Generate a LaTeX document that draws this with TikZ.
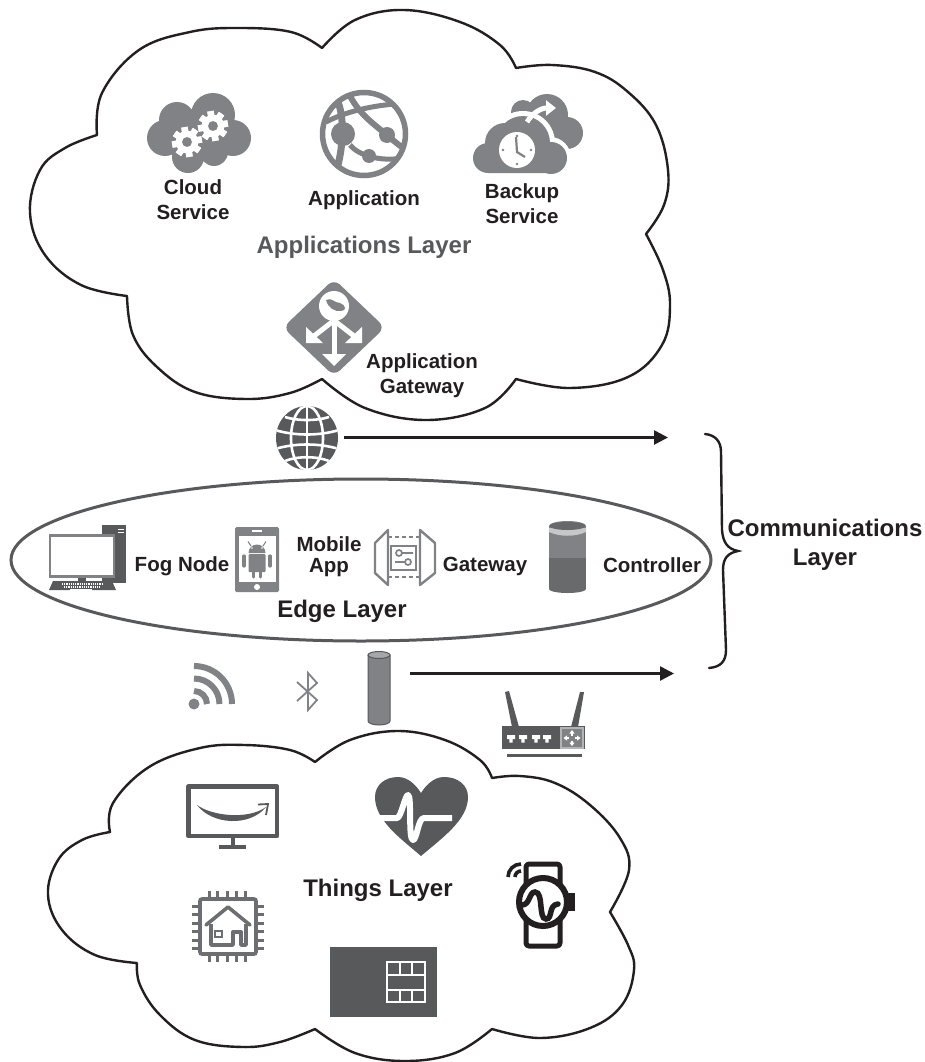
\documentclass[tikz,border=0pt]{standalone}
\usepackage{fontspec}
\setmainfont{Liberation Sans}
\usetikzlibrary{arrows.meta}
\definecolor{midg}{HTML}{808285}
\definecolor{darkg}{HTML}{58595B}
\definecolor{chipg}{HTML}{6D6E71}
\definecolor{ink}{HTML}{231F20}
\tikzset{
 cloudline/.style={draw=ink,line width=2.4pt,line join=round,fill=white},
 lab/.style={font=\fontsize{20.5}{24}\selectfont\bfseries,text=ink,align=center,inner sep=0pt},
 biglab/.style={font=\fontsize{24}{30}\selectfont\bfseries,text=ink,align=center,inner sep=0pt},
 flow/.style={draw=ink,line width=2.6pt,-{Triangle[length=14pt,width=14pt]}},
 wl/.style={draw=white,line width=2.6pt},
 smoothp/.style={smooth,tension=.65},
 rarrow/.style={white,line width=1.6pt,-{Triangle[length=3.5pt,width=5pt]}},
}
\newcommand{\gearic}[3]{%
 \foreach \a in {0,45,...,315}{\fill[white,rotate around={\a+10:(#1,#2)}] (#1-3.2,#2-#3) rectangle (#1+3.2,#2+#3);}
 \fill[white] (#1,#2) circle[radius=#3*0.76pt];
 \fill[midg] (#1,#2) circle[radius=#3*0.33pt];}
\begin{document}
\begin{tikzpicture}[x=1pt,y=-1pt]
\useasboundingbox (0,0) rectangle (925,1062);
\fill[white] (0,0) rectangle (925,1062);

% ---------- top cloud
\path[cloudline] (322,48) -- plot[smoothp] coordinates {(322,48) (355,20) (404,10) (460,22) (500,45) (516,68)}
 -- plot[smoothp] coordinates {(516,68) (552,65) (595,72) (628,92) (656,125) (668,170) (664,205) (646,234)}
 -- plot[smoothp] coordinates {(646,234) (663,270) (670,305) (662,345) (628,377) (570,388) (516,379)}
 -- plot[smoothp] coordinates {(516,379) (485,408) (426,420) (365,408) (322,379)}
 -- plot[smoothp] coordinates {(322,379) (290,393) (247,399) (195,392) (157,367) (133,335) (127,296)}
 -- plot[smoothp] coordinates {(127,296) (81,285) (45,255) (30,213) (40,170) (65,148) (97,135)}
 -- plot[smoothp] coordinates {(97,135) (102,93) (139,50) (190,32) (238,28) (291,32) (322,48)} -- cycle;

% Cloud service icon
\fill[midg] (177,120) circle[radius=18pt] (213,115) circle[radius=22pt] (165,138) circle[radius=18pt]
  (233,138) circle[radius=18pt] (188,157) circle[radius=16pt] (214,152) circle[radius=14pt] (200,135) circle[radius=24pt];
\gearic{187}{142}{15}
\gearic{213}{126}{15}
\node[lab] (cloudsvc) at (193,200) {Cloud\\[1pt]Service};

% Application icon
\draw[midg,line width=5.5pt] (364,134) circle[radius=41.5pt];
\begin{scope}
 \clip (364,134) circle[radius=42pt];
 \draw[midg,line width=6pt] (350,96) .. controls (360,115) and (375,125) .. (387,135) .. controls (395,142) and (400,146) .. (406,150);
 \draw[midg,line width=5pt] (326,122) .. controls (345,112) and (370,106) .. (395,104);
 \draw[midg,line width=7pt] (338,102) .. controls (345,120) and (343,150) .. (336,172);
 \draw[midg,line width=5pt] (350,145) .. controls (358,155) and (380,162) .. (402,158);
\end{scope}
\fill[midg] (343,134) circle[radius=12pt] (387,135) circle[radius=8pt] (369,156) circle[radius=7pt];
\node[lab] (appl) at (364,200) {Application};

% Backup icon
\fill[midg] (523,112) circle[radius=12pt] (547,115) circle[radius=21pt] (567,133) circle[radius=16pt] (555,125) rectangle (575,140);
\fill[white] (502,143) circle[radius=24pt] (523,143) circle[radius=32pt] (488,158) circle[radius=19pt] (550,158) circle[radius=21pt];
\fill[midg] (505,143) circle[radius=20pt] (523,143) circle[radius=27pt] (488,158) circle[radius=15pt] (551,158) circle[radius=16pt] (488,150) rectangle (551,173);
\draw[white,line width=5pt,-{Triangle[length=10pt,width=15pt]}] (527,122) .. controls (533,112) and (542,108) .. (556,108);
\fill[white] (517,150) circle[radius=18pt];
\draw[midg,line width=2.2pt] (516,137) -- (517,152) -- (525,157);
\fill[midg] (517,136) circle[radius=1.3pt] (517,164) circle[radius=1.3pt] (503,150) circle[radius=1.3pt] (531,150) circle[radius=1.3pt];
\node[lab] (backup) at (522,203.5) {Backup\\[1pt]Service};

\node[biglab,text=darkg] (applayer) at (364,247) {Applications Layer};

% Application gateway icon
\fill[midg,rounded corners=8pt] (334,279) -- (385,327.5) -- (334,376) -- (283,327.5) -- cycle;
\fill[white] (334,306) circle[radius=15pt];
\fill[midg] (326,300) .. controls (332,297) and (334,303) .. (340,303) .. controls (346,305) and (347,311) .. (341,311) .. controls (335,312) and (328,308) .. (326,300) -- cycle;
\draw[white,line width=5pt] (334,318) -- (334,356);
\draw[white,line width=5pt] (332,322) -- (314,336);
\draw[white,line width=5pt] (336,322) -- (354,336);
\fill[white] (322,354) -- (346,354) -- (334,366) -- cycle;
\fill[white] (306,327) -- (306,343) -- (323,343) -- cycle;
\fill[white] (362,327) -- (362,343) -- (345,343) -- cycle;
\node[lab] (appgw) at (422,375.5) {Application\\[1pt]Gateway};

% ---------- globe
\fill[darkg] (307,438) ellipse[x radius=31pt,y radius=32pt];
\begin{scope}
 \clip (307,438) ellipse[x radius=31pt,y radius=32pt];
 \draw[wl] (307,438) ellipse[x radius=16pt,y radius=32pt];
 \draw[wl] (307,406) -- (307,470);
 \draw[wl] (285,417) .. controls (297,421) and (317,421) .. (329,417);
 \draw[wl] (275,430) .. controls (295,436) and (319,436) .. (339,430);
 \draw[wl] (275,449) .. controls (295,443) and (319,443) .. (339,449);
 \draw[wl] (285,461) .. controls (297,456) and (317,456) .. (329,461);
\end{scope}
\coordinate (globeR) at (344,437.5);
\coordinate (upEnd) at (668,437.5);
\draw[flow] (globeR) -- (upEnd);

% ---------- brace
\draw[draw=ink,line width=2.4pt,line cap=round] (705,434) .. controls (715,435) and (721,441) .. (721,452) -- (722,530) .. controls (723,543) and (728,549) .. (738,551) .. controls (728,553) and (723,558) .. (723,570) -- (726,650) .. controls (726,662) and (720,667) .. (709,668);
\node[biglab] (comm) at (825,528) {Communications};
\node[biglab] (comm2) at (825,560) {Layer};

% ---------- edge ellipse
\draw[draw=darkg,line width=3pt] (361,560) ellipse[x radius=350pt,y radius=81pt];

% fog node icon
\fill[darkg] (102,525) rectangle (125.5,583);
\draw[white,line width=1pt] (118,529) -- (124,529) (118,532) -- (124,532);
\fill[white] (49,534) rectangle (115,578);
\draw[midg,line width=2.6pt] (50,535.5) rectangle (114,576.5);
\fill[darkg] (78,578) rectangle (86,581);
\fill[darkg] (53,581) -- (112,581) -- (116,590) -- (49,590) -- cycle;
\draw[white,line width=1.3pt,dash pattern=on 1.2pt off 1pt] (62,584) -- (103,584) (64,587) -- (100,587);
\fill[white] (70,589) rectangle (92,590.5);
\node[lab] (fog) at (182,566) {Fog Node};

% mobile icon
\fill[midg,rounded corners=1.5pt] (235,527) rectangle (279,592);
\fill[white] (238.5,536) rectangle (275.5,582);
\fill[white] (252,530) rectangle (262,532);
\fill[white] (257,587) circle[radius=3pt];
\fill[midg] (248.5,553) arc[start angle=180,end angle=0,radius=8.5pt] -- cycle;
\draw[midg,line width=1pt] (251,546) -- (248,541.5) (263,546) -- (266,541.5);
\fill[midg,rounded corners=1pt] (248.5,554) rectangle (265.5,572);
\draw[midg,line width=3.2pt,line cap=round] (244,556) -- (244,566) (270,556) -- (270,566) (253.5,572) -- (253.5,577) (260.5,572) -- (260.5,577);
\fill[white] (252,548) circle[radius=.8pt] (262,548) circle[radius=.8pt];
\node[lab] (mobile) at (329,557) {Mobile\\[-3pt]App};

% gateway icon
\draw[midg,line width=2.4pt,line join=round] (388,530) -- (375,543) -- (375,573) -- (388,585) -- cycle;
\draw[midg,line width=2.4pt,line join=round] (420,530) -- (435,543) -- (435,573) -- (420,585) -- cycle;
\draw[midg,line width=2.4pt,dash pattern=on 4pt off 3pt] (388,537) -- (420,537) (388,577) -- (420,577);
\draw[midg,line width=2.6pt] (391,546) rectangle (416,570);
\draw[midg,line width=1.7pt] (399,553) circle[radius=3pt] (408,562) circle[radius=3pt] (402,553) -- (413,553) (405,562) -- (395,562);
\node[lab] (gwlab) at (485,566) {Gateway};

% controller icon
\fill[midg] (549,526) rectangle (586,558);
\fill[darkg!90!white] (549,558) rectangle (586,589);
\fill[darkg!90!white] (567.5,589) ellipse[x radius=18.5pt,y radius=4pt];
\fill[midg] (567.5,526) ellipse[x radius=18.5pt,y radius=5pt];
\fill[midg!45!white] (549,528) -- (586,528) -- (586,532) .. controls (575,537) and (560,537) .. (549,532) -- cycle;
\fill[midg!80!black] (567.5,526) ellipse[x radius=18pt,y radius=4pt];
\node[lab] (ctrl) at (652,565) {Controller};

\node[biglab] (edge) at (342,611) {Edge Layer};

% ---------- wifi, bluetooth, cylinder
\fill[midg] (194,704) circle[radius=5.5pt];
\draw[midg,line width=6pt] (207,704) arc[start angle=0,end angle=90,radius=13pt];
\draw[midg,line width=6pt] (219.5,704) arc[start angle=0,end angle=90,radius=25.5pt];
\draw[midg,line width=6pt] (232,704) arc[start angle=0,end angle=90,radius=38pt];
\draw[midg,line width=1.8pt,line join=miter] (297,682) -- (317,700) -- (308,710) -- (308,673) -- (317,683) -- (297,701);

\draw[darkg,fill=midg,line width=1pt] (368,655) -- (368,721) arc[start angle=180,end angle=360,x radius=11pt,y radius=4pt] -- (390,655) -- cycle;
\draw[darkg,fill=midg!70!white,line width=1pt] (379,655) ellipse[x radius=11pt,y radius=3.5pt];
\coordinate (cylR) at (410,673.5);
\coordinate (lowEnd) at (674,673.5);
\draw[flow] (cylR) -- (lowEnd);

% router
\fill[darkg] (505,692) -- (509,691) -- (519,727) -- (512,727) -- cycle;
\fill[darkg] (580,692) -- (584,692) -- (578,727) -- (571,727) -- cycle;
\fill[darkg] (502,726) rectangle (585,749);
\draw[darkg,line width=2.5pt] (507,755.5) -- (582,755.5);
\foreach \x in {511,523,536,547}{\fill[white] (\x-4,735) rectangle (\x+4,739) (\x-1.7,739) rectangle (\x+1.7,742.5);}
\draw[midg!60!white,fill=midg,line width=1.2pt] (561,728) rectangle (583,748);
\draw[rarrow] (572,735.5) -- (572,730);
\draw[rarrow] (572,740.5) -- (572,746);
\draw[rarrow] (569,738) -- (563.5,738);
\draw[rarrow] (575,738) -- (580.5,738);

% ---------- bottom cloud
\path[cloudline] (315,762) -- plot[smoothp] coordinates {(315,762) (350,740) (398,731) (445,740) (480,760) (492,778)}
 -- plot[smoothp] coordinates {(492,778) (520,776) (555,783) (590,805) (620,838) (629,870) (610,912)}
 -- plot[smoothp] coordinates {(610,912) (628,945) (634,970) (622,1005) (590,1028) (540,1038) (492,1029)}
 -- plot[smoothp] coordinates {(492,1029) (455,1053) (405,1061) (355,1053) (315,1029)}
 -- plot[smoothp] coordinates {(315,1029) (280,1042) (243,1047) (195,1040) (160,1015) (140,985) (137,963)}
 -- plot[smoothp] coordinates {(137,963) (95,955) (62,930) (48,895) (58,860) (82,840) (110,832)}
 -- plot[smoothp] coordinates {(110,832) (113,803) (149,767) (200,748) (245,745) (290,750) (315,762)} -- cycle;

% TV
\draw[darkg,line width=4.5pt,line join=round] (188.5,786.5) rectangle (277,836);
\draw[darkg,line width=4pt] (233,838) -- (233,847);
\draw[darkg,line width=4.5pt] (219,847) -- (246,847);
\fill[darkg] (197,805) .. controls (212,816) and (248,820) .. (266,807) .. controls (250,827) and (212,825) .. (197,805) -- cycle;
\draw[darkg,line width=1.8pt] (258,804.5) -- (268,804) -- (266,815);

% heart
\fill[darkg] (421,856) .. controls (400,838) and (375,820) .. (375,797) .. controls (375,785) and (385,777) .. (398,777) .. controls (408,777) and (416,785) .. (421,793) .. controls (426,785) and (434,777) .. (444,777) .. controls (458,777) and (468,785) .. (468,797) .. controls (468,820) and (442,838) .. (421,856) -- cycle;
\draw[white,line width=6pt,line join=round] (378,818) -- (397,818) .. controls (401,818) and (405,795) .. (408,795) .. controls (412,795) and (408,840) .. (413,840) .. controls (417,840) and (418,818) .. (424,818) -- (452,818);

\node[biglab] (things) at (378,890) {Things Layer};

% chip with house
\draw[chipg,line width=3.6pt,rounded corners=2pt] (200,899) rectangle (256,954);
\foreach \y in {906,914.5,923,931.5,940,948}{\draw[chipg,line width=3pt] (192,\y) -- (199,\y) (257,\y) -- (263.5,\y);}
\foreach \x in {209,217.5,227,236,245}{\draw[chipg,line width=3pt] (\x,891) -- (\x,898) (\x,955) -- (\x,962);}
\draw[chipg,line width=3.6pt,line join=round,line cap=round] (206,925) -- (228,907) -- (250,925);
\draw[chipg,line width=3.4pt,line join=round] (211,924) -- (211,945) -- (233,945) -- (233,932) -- (241,932) -- (241,945) -- (246,945) -- (246,924);
\draw[chipg,line width=2.4pt] (215,931) rectangle (222,937);

% video rectangle
\fill[darkg] (330,947) rectangle (437,1017);
\draw[white,line width=2pt] (387,962) rectangle (425,1002);
\draw[white,line width=2pt] (387,975) -- (425,975) (387,990) -- (425,990) (400,962) -- (400,975) (412,962) -- (412,975) (400,990) -- (400,1002) (412,990) -- (412,1002);

% watch
\draw[ink,line width=5pt,line join=round,rounded corners=3pt] (526,884) -- (526,864) -- (560,864) -- (560,884);
\draw[ink,line width=5pt,line join=round,rounded corners=3pt] (526,920) -- (526,946) -- (560,946) -- (560,920);
\fill[white] (543,902) circle[radius=24pt];
\draw[ink,line width=6pt] (543,902) circle[radius=24pt];
\fill[ink] (568,893) rectangle (575,911);
\draw[ink,line width=5.5pt,line cap=round] (522,905) .. controls (530,905) and (529,892) .. (535,892) .. controls (544,892) and (538,919) .. (546,919) .. controls (553,919) and (548,905) .. (558,904);
\draw[ink,line width=3.6pt] (508,877) arc[start angle=180,end angle=90,radius=13pt];
\draw[ink,line width=3.6pt] (515,877) arc[start angle=180,end angle=90,radius=6pt];
\end{tikzpicture}
\end{document}
